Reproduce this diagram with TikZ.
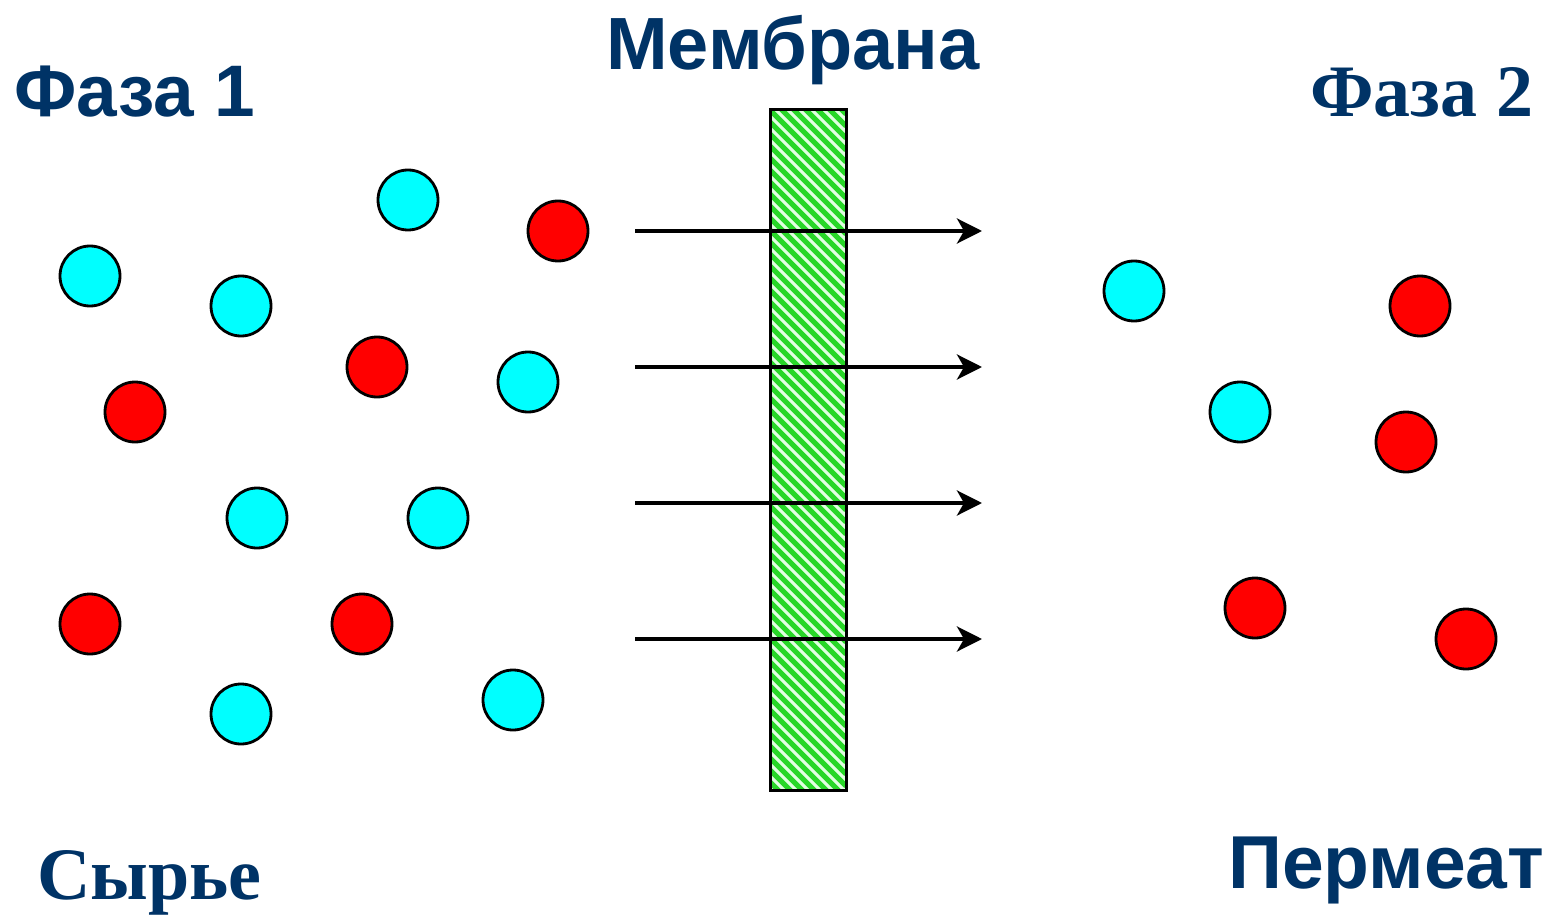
\documentclass[tikz,border=0pt]{standalone}
\usepackage{fontspec}
\setmainfont{Liberation Serif}
\newfontfamily\headsans{Liberation Sans}
\usetikzlibrary{arrows.meta}
\definecolor{navy}{RGB}{0,51,102}
\definecolor{cyanball}{RGB}{0,255,255}
\definecolor{redball}{RGB}{255,0,0}
\definecolor{hatchgreen}{RGB}{40,215,40}
\definecolor{hatchbg}{RGB}{225,255,225}
\tikzset{
  ball/.style={circle, draw=black, line width=2.8pt, minimum size=60pt, inner sep=0pt},
  cball/.style={ball, fill=cyanball},
  rball/.style={ball, fill=redball},
  sanslabel/.style={anchor=base west, inner sep=0pt, text=navy, font=\headsans\bfseries\fontsize{73}{80}\selectfont},
  seriflabel/.style={anchor=base west, inner sep=0pt, text=navy, font=\rmfamily\bfseries\fontsize{74}{80}\selectfont},
  flow/.style={line width=4pt, -{Stealth[length=25pt, width=25pt, inset=7pt]}}
}
\begin{document}
\begin{tikzpicture}[x=1pt, y=-1pt]
\useasboundingbox (0,0) rectangle (1547,917);

% membrane with diagonal hatching
\fill[hatchbg] (770,110) rectangle (846,790);
\begin{scope}
  \clip (770,110) rectangle (846,790);
  \foreach \k in {-84,-72,...,700} {
    \draw[hatchgreen, line width=5pt] (770,110+\k) -- (846,186+\k);
  }
\end{scope}
\draw[line width=3pt] (770,110) rectangle (846,790);

% transport arrows across the membrane
\foreach \y [count=\i] in {231,367,503,639} {
  \coordinate (src\i) at (635,\y);
  \coordinate (dst\i) at (982,\y);
  \draw[flow] (src\i) -- (dst\i);
}

% feed side molecules
\node[cball] (f1) at (90,276) {};
\node[cball] (f2) at (241,306) {};
\node[cball] (f3) at (408,200) {};
\node[cball] (f4) at (528,382) {};
\node[cball] (f5) at (257,518) {};
\node[cball] (f6) at (438,518) {};
\node[cball] (f7) at (241,714) {};
\node[cball] (f8) at (513,700) {};
\node[rball] (f9) at (558,231) {};
\node[rball] (f10) at (377,367) {};
\node[rball] (f11) at (135,412) {};
\node[rball] (f12) at (90,624) {};
\node[rball] (f13) at (362,624) {};

% permeate side molecules
\node[cball] (p1) at (1134,291) {};
\node[cball] (p2) at (1240,412) {};
\node[rball] (p3) at (1420,306) {};
\node[rball] (p4) at (1406,442) {};
\node[rball] (p5) at (1255,608) {};
\node[rball] (p6) at (1466,639) {};

% labels
\node[sanslabel] (phase1) at (14,117) {Фаза 1};
\node[sanslabel, font=\headsans\bfseries\fontsize{74}{80}\selectfont] (memlabel) at (606,70) {Мембрана};
\node[seriflabel] (phase2) at (1310,117) {Фаза 2};
\node[seriflabel] (feed) at (37,899) {Сырье};
\node[sanslabel, font=\headsans\bfseries\fontsize{75}{80}\selectfont] (perm) at (1228,888) {Пермеат};
\end{tikzpicture}
\end{document}
